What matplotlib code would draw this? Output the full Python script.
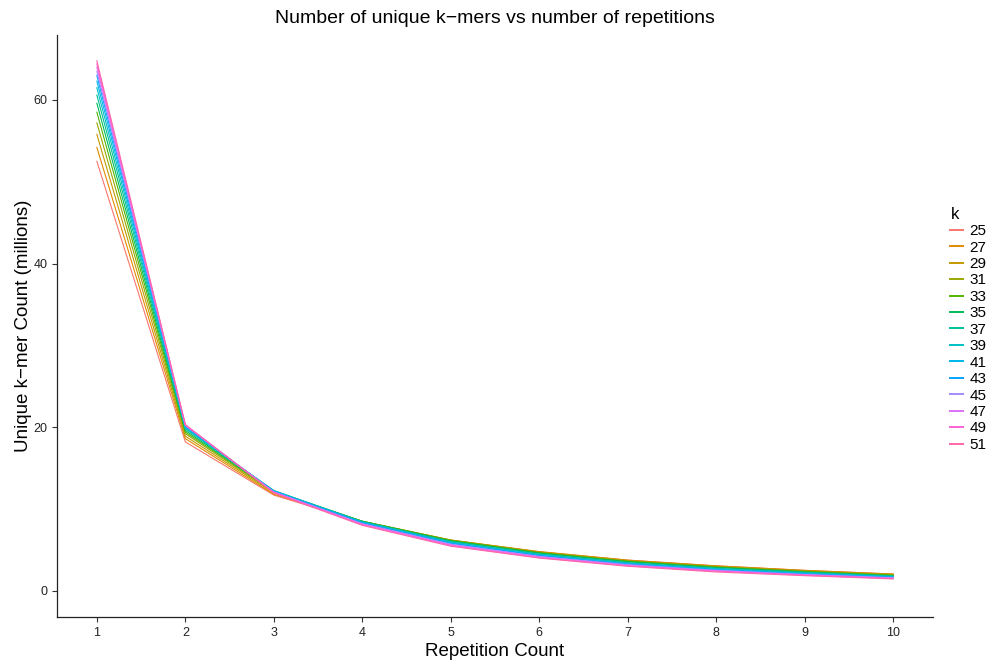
import numpy as np
from matplotlib import pyplot as plt

plt.rcParams['font.family'] = ['Liberation Sans', 'DejaVu Sans']

k_values = [25, 27, 29, 31, 33, 35, 37, 39, 41, 43, 45, 47, 49, 51]
repetitions = [1, 2, 3, 4, 5, 6, 7, 8, 9, 10]

# unique k-mer counts (millions), one row per repetition count, one column per k
counts_by_rep = [
    [52.5, 54.2, 55.8, 57.2, 58.5, 59.6, 60.6, 61.5, 62.3, 63.0, 63.5, 64.0, 64.4, 64.8],
    [18.2, 18.6, 18.9, 19.2, 19.4, 19.6, 19.8, 19.9, 20.0, 20.1, 20.2, 20.25, 20.3, 20.3],
    [11.7, 11.8, 11.95, 12.05, 12.15, 12.2, 12.25, 12.25, 12.2, 12.15, 12.1, 12.05, 12.0, 11.95],
    [8.4, 8.45, 8.5, 8.5, 8.5, 8.5, 8.45, 8.4, 8.35, 8.3, 8.2, 8.15, 8.1, 8.0],
    [6.15, 6.2, 6.2, 6.2, 6.15, 6.1, 6.0, 5.95, 5.85, 5.8, 5.7, 5.6, 5.55, 5.45],
    [4.75, 4.8, 4.75, 4.7, 4.65, 4.6, 4.5, 4.45, 4.35, 4.3, 4.2, 4.15, 4.05, 4.0],
    [3.75, 3.75, 3.7, 3.65, 3.6, 3.55, 3.45, 3.4, 3.3, 3.25, 3.2, 3.1, 3.05, 3.0],
    [3.05, 3.05, 3.0, 2.95, 2.9, 2.85, 2.75, 2.7, 2.65, 2.55, 2.5, 2.45, 2.4, 2.3],
    [2.5, 2.5, 2.45, 2.4, 2.35, 2.3, 2.25, 2.2, 2.1, 2.05, 2.0, 1.95, 1.9, 1.85],
    [2.05, 2.05, 2.0, 1.95, 1.9, 1.85, 1.8, 1.75, 1.7, 1.65, 1.6, 1.55, 1.5, 1.45],
]
counts = np.array(counts_by_rep).T


def hcl_color(h, c=100, l=65):
    # polar CIE-Luv -> sRGB, same as R's hcl()
    un, vn = 0.1978398, 0.4683363
    u = c * np.cos(np.radians(h))
    v = c * np.sin(np.radians(h))
    Y = ((l + 16) / 116) ** 3
    up = u / (13 * l) + un
    vp = v / (13 * l) + vn
    X = Y * 9 * up / (4 * vp)
    Z = Y * (12 - 3 * up - 20 * vp) / (4 * vp)
    m = np.array([[3.2404542, -1.5371385, -0.4985314],
                  [-0.9692660, 1.8760108, 0.0415560],
                  [0.0556434, -0.2040259, 1.0572252]])
    rgb = np.clip(m @ np.array([X, Y, Z]), 0, 1)
    rgb = np.where(rgb <= 0.0031308, 12.92 * rgb, 1.055 * rgb ** (1 / 2.4) - 0.055)
    return tuple(np.clip(rgb, 0, 1))


n = len(k_values)
hues = np.linspace(15, 375, n + 1)[:n]
colors = [hcl_color(h) for h in hues]

fig = plt.figure(figsize=(9.92, 6.64), dpi=100)
ax = fig.add_axes([0.0575, 0.0708, 0.883, 0.876])

for i, k in enumerate(k_values):
    ax.plot(repetitions, counts[i], color=colors[i], lw=0.8, label=str(k))

ax.set_xlim(0.55, 10.45)
ax.set_ylim(-3.2, 67.9)
ax.set_xticks(repetitions)
ax.set_yticks([0, 20, 40, 60])
ax.tick_params(labelsize=9, length=3.5, color='#333333', labelcolor='#222222')
for s in ['top', 'right']:
    ax.spines[s].set_visible(False)
for s in ['left', 'bottom']:
    ax.spines[s].set_linewidth(0.9)
    ax.spines[s].set_color('#222222')

ax.set_title("Number of unique k\u2212mers vs number of repetitions", fontsize=14, pad=9)
ax.set_xlabel("Repetition Count", fontsize=13.5, labelpad=3)
ax.set_ylabel("Unique k\u2212mer Count (millions)", fontsize=13.5, labelpad=1)

leg = ax.legend(title="k", loc='upper left', bbox_to_anchor=(1.013, 0.716), frameon=False,
                fontsize=11, title_fontsize=12, handlelength=0.85, handletextpad=0.4,
                labelspacing=0.16, borderaxespad=0)
leg._legend_box.align = 'left'
for line in leg.get_lines():
    line.set_linewidth(1.4)

plt.savefig('out.png')
